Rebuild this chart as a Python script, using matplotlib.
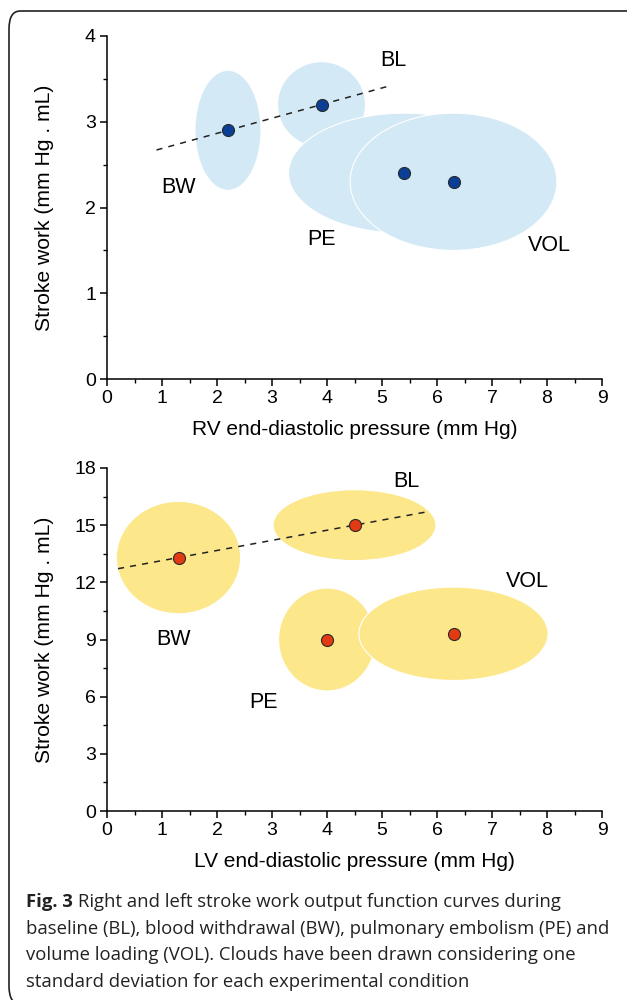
import numpy as np
import matplotlib
matplotlib.use("Agg")
from matplotlib import pyplot as plt
from matplotlib.patches import Ellipse, FancyBboxPatch

plt.rcParams['font.family'] = ['Liberation Sans', 'DejaVu Sans']

# conditions, same order in both panels
conds = ['BL', 'BW', 'PE', 'VOL']

# right ventricle: means and one SD (x = pressure, y = stroke work)
rv_x = [3.9, 2.2, 5.4, 6.3]
rv_y = [3.2, 2.9, 2.4, 2.3]
rv_sdx = [0.8, 0.6, 2.1, 1.88]
rv_sdy = [0.5, 0.7, 0.7, 0.8]
rv_lab_x = [5.2, 1.3, 3.9, 8.05]
rv_lab_y = [3.72, 2.23, 1.63, 1.56]
rv_fit_x = [0.9, 5.15]

# left ventricle
lv_x = [4.5, 1.3, 4.0, 6.3]
lv_y = [15.0, 13.3, 9.0, 9.3]
lv_sdx = [1.48, 1.13, 0.88, 1.72]
lv_sdy = [1.86, 2.95, 2.7, 2.45]
lv_lab_x = [5.45, 1.2, 2.85, 7.65]
lv_lab_y = [17.3, 9.0, 5.7, 12.05]
lv_fit_x = [0.2, 5.8]

W, H = 627, 1000
fig = plt.figure(figsize=(6.27, 10), dpi=100)

# rounded frame around the whole figure
frame = FancyBboxPatch((9 / W, 1 - 1004 / H), 640 / W, 993 / H,
                       boxstyle="round,pad=0,rounding_size=0.018",
                       transform=fig.transFigure, fill=False,
                       edgecolor='#222222', linewidth=1.2, clip_on=False)
fig.patches.append(frame)


def panel(ax, xs, ys, sdx, sdy, lab_x, lab_y, fit_x, fill, dot, ymax, ystep, xlabel):
    for i in range(len(conds)):
        ax.add_patch(Ellipse((xs[i], ys[i]), 2 * sdx[i], 2 * sdy[i],
                             facecolor=fill, edgecolor='white', linewidth=0.8, zorder=1))
    # linear fit through BW and BL
    k = (ys[0] - ys[1]) / (xs[0] - xs[1])
    fx = np.array(fit_x)
    ax.plot(fx, ys[1] + k * (fx - xs[1]), ls=(0, (4, 4)), color='#222222', lw=1.1, zorder=3)
    ax.scatter(xs, ys, s=75, color=dot, edgecolor='#2a2a2a', linewidth=0.8, zorder=4)
    for i, c in enumerate(conds):
        ax.text(lab_x[i], lab_y[i], c, fontsize=15.5, ha='center', va='center')

    ax.set_xlim(0, 9)
    ax.set_ylim(0, ymax)
    ax.set_xticks(range(0, 10))
    ax.set_xticks(np.arange(0.5, 9, 1), minor=True)
    ax.set_yticks(np.arange(0, ymax + 0.01, ystep))
    ax.set_yticks(np.arange(ystep / 2, ymax, ystep), minor=True)
    for s in ['top', 'right']:
        ax.spines[s].set_visible(False)
    for s in ['left', 'bottom']:
        ax.spines[s].set_linewidth(1.1)
    ax.tick_params(which='major', length=5, width=1.1, labelsize=14, pad=3)
    ax.tick_params(which='minor', length=3, width=1.0)
    ax.set_facecolor('none')
    ax.set_ylabel('Stroke work (mm Hg . mL)', fontsize=15.2)
    ax.yaxis.set_label_coords(-0.108, 0.5)
    ax.set_xlabel(xlabel, fontsize=15)
    ax.xaxis.label.set_va('center')
    ax.xaxis.set_label_coords(0.5, -0.148)


ax1 = fig.add_axes([107 / W, 1 - 379 / H, 495 / W, 343 / H])
panel(ax1, rv_x, rv_y, rv_sdx, rv_sdy, rv_lab_x, rv_lab_y, rv_fit_x,
      '#d3e9f6', '#0b3f96', 4, 1, 'RV end-diastolic pressure (mm Hg)')
ax1.set_yticks(np.arange(0.5, 4, 0.5), minor=True)

ax2 = fig.add_axes([107 / W, 1 - 811 / H, 495 / W, 343 / H])
panel(ax2, lv_x, lv_y, lv_sdx, lv_sdy, lv_lab_x, lv_lab_y, lv_fit_x,
      '#fde78b', '#e23a12', 18, 3, 'LV end-diastolic pressure (mm Hg)')

# caption
cap_font = ['Open Sans', 'DejaVu Sans']
cap_size = 13.3
lines = ["Right and left stroke work output function curves during",
         "baseline (BL), blood withdrawal (BW), pulmonary embolism (PE) and",
         "volume loading (VOL). Clouds have been drawn considering one",
         "standard deviation for each experimental condition"]
ys_cap = [902, 929, 955, 982]
x0 = 26 / W
t = fig.text(x0, 1 - ys_cap[0] / H, 'Fig. 3', fontsize=cap_size, fontweight='bold',
             family=cap_font, va='center', color='#222222')
fig.canvas.draw()
bb = t.get_window_extent(fig.canvas.get_renderer())
fig.text(bb.x1 / fig.bbox.width + 5 / W, 1 - ys_cap[0] / H, lines[0], fontsize=cap_size,
         family=cap_font, va='center', color='#222222')
for ln, yy in zip(lines[1:], ys_cap[1:]):
    fig.text(x0, 1 - yy / H, ln, fontsize=cap_size, family=cap_font, va='center', color='#222222')

fig.savefig('out.png', dpi=100)
